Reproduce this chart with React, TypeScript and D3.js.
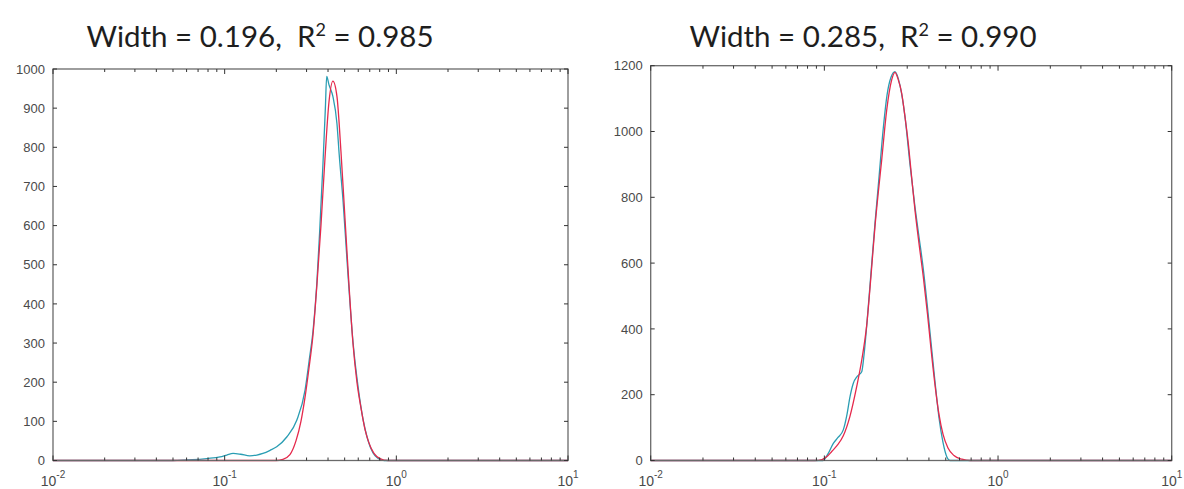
import React from "react";
import * as d3 from "d3";

const WIDTH = 1184;
const HEIGHT = 489;

// Shared log-scaled size axis
const xDomain = [0.01, 10];
const xDecadeExponents = ["-2", "-1", "0", "1"];

// Left panel: measured distribution (cyan) and fitted curve (red)
const leftWidth = "0.196";
const leftR2 = "0.985";
const leftYMax = 1000;
const leftYTicks = [0, 100, 200, 300, 400, 500, 600, 700, 800, 900, 1000];
const leftDataX = [0.01, 0.05, 0.065, 0.0785, 0.094, 0.103, 0.112, 0.124, 0.14, 0.154, 0.167, 0.184, 0.201, 0.23, 0.263, 0.294, 0.311, 0.327, 0.344, 0.359, 0.374, 0.386, 0.393, 0.405, 0.427, 0.451, 0.465, 0.49, 0.52, 0.56, 0.6, 0.64, 0.68, 0.73, 0.78, 0.85, 10];
const leftDataY = [0, 0, 2, 5, 9, 14, 18, 16, 12, 14, 18, 26, 35, 60, 103, 180, 257, 330, 450, 600, 760, 900, 981, 960, 930, 860, 780, 660, 490, 300, 185, 105, 55, 20, 6, 0, 0];
const leftFitX = [0.01, 0.199, 0.2185, 0.24, 0.2602, 0.2782, 0.2935, 0.3097, 0.3268, 0.3448, 0.3638, 0.3838, 0.405, 0.4273, 0.4509, 0.4757, 0.5019, 0.5296, 0.5588, 0.5896, 0.622, 0.6563, 0.6925, 0.7409, 0.8027, 0.8935, 10];
const leftFitY = [0, 0, 3, 15, 50, 100, 160, 235, 320, 450, 600, 770, 915, 969, 930, 790, 620, 450, 300, 200, 135, 80, 45, 18, 5, 0, 0];

// Right panel: measured distribution (cyan) and fitted curve (red)
const rightWidth = "0.285";
const rightR2 = "0.990";
const rightYMax = 1200;
const rightYTicks = [0, 200, 400, 600, 800, 1000, 1200];
const rightDataX = [0.01, 0.0982, 0.1049, 0.1126, 0.1198, 0.1285, 0.135, 0.1405, 0.1468, 0.1542, 0.1641, 0.1691, 0.176, 0.1855, 0.1956, 0.2063, 0.2184, 0.2294, 0.2419, 0.255, 0.2725, 0.2912, 0.3112, 0.3325, 0.3506, 0.3697, 0.3899, 0.4111, 0.4335, 0.4571, 0.482, 0.5082, 0.529, 10];
const rightDataY = [0, 0, 20, 52, 70, 93, 140, 194, 235, 255, 270, 320, 420, 570, 720, 860, 1010, 1110, 1165, 1182, 1140, 1045, 900, 770, 680, 590, 480, 360, 240, 130, 55, 10, 0, 0];
const rightFitX = [0.01, 0.0883, 0.0969, 0.1035, 0.1106, 0.1182, 0.1285, 0.1405, 0.1536, 0.1647, 0.1752, 0.1855, 0.1956, 0.2049, 0.2138, 0.2285, 0.2441, 0.255, 0.2655, 0.2788, 0.2912, 0.3042, 0.3175, 0.3325, 0.3506, 0.3712, 0.3925, 0.4111, 0.4335, 0.4571, 0.482, 0.515, 0.5577, 0.62, 0.6895, 10];
const rightFitY = [0, 0, 3, 12, 28, 45, 75, 135, 225, 310, 410, 560, 711, 820, 913, 1065, 1157, 1180, 1160, 1116, 1045, 964, 865, 761, 660, 559, 445, 340, 230, 140, 80, 38, 15, 4, 0, 0];

const DATA_COLOR = "#2a9db3";
const FIT_COLOR = "#e5294c";
const AXIS_COLOR = "#6a6a6a";
const LABEL_COLOR = "#4a4a4a";
const TICK_FONT = "'Liberation Sans', Arial, Helvetica, sans-serif";
const TITLE_FONT = "Lato, 'Open Sans', sans-serif";

type PanelProps = {
  left: number;
  right: number;
  top: number;
  bottom: number;
  titleX: number;
  width: string;
  r2: string;
  yMax: number;
  yTicks: number[];
  dataX: number[];
  dataY: number[];
  fitX: number[];
  fitY: number[];
};

function Panel(p: PanelProps) {
  const x = d3.scaleLog().domain(xDomain).range([p.left, p.right]);
  const y = d3.scaleLinear().domain([0, p.yMax]).range([p.bottom, p.top]);
  const line = d3
    .line<[number, number]>()
    .x((d) => x(d[0]))
    .y((d) => y(d[1]))
    .curve(d3.curveMonotoneX);
  const dataPath = line(p.dataX.map((v, i) => [v, p.dataY[i]] as [number, number])) || "";
  const fitPath = line(p.fitX.map((v, i) => [v, p.fitY[i]] as [number, number])) || "";
  const xTicks = x.ticks();
  const isMajor = (v: number) => Math.abs(Math.log10(v) - Math.round(Math.log10(v))) < 1e-9;

  return (
    <g>
      <text
        x={p.titleX}
        y={47}
        textAnchor="middle"
        fontFamily={TITLE_FONT}
        fontSize={29.5}
        fill="#1e1e1e"
        style={{ whiteSpace: "pre" }}
      >
        {`Width = ${p.width},  R`}
        <tspan fontSize={18} dy={-11}>2</tspan>
        <tspan dy={11}>{` = ${p.r2}`}</tspan>
      </text>

      {/* curves */}
      <path d={dataPath} fill="none" stroke={DATA_COLOR} strokeWidth={1.3} />
      <path d={fitPath} fill="none" stroke={FIT_COLOR} strokeWidth={1.3} />

      {/* box */}
      <rect
        x={p.left}
        y={p.top}
        width={p.right - p.left}
        height={p.bottom - p.top}
        fill="none"
        stroke={AXIS_COLOR}
        strokeWidth={1.3}
      />

      {/* x ticks, inside on bottom and top */}
      {xTicks.map((v, i) => {
        const len = isMajor(v) ? 5 : 3;
        const xx = x(v);
        return (
          <g key={`xt${i}`} stroke="#333" strokeWidth={1}>
            <line x1={xx} x2={xx} y1={p.bottom} y2={p.bottom - len} />
            <line x1={xx} x2={xx} y1={p.top} y2={p.top + len} />
          </g>
        );
      })}

      {/* y ticks, inside on left and right */}
      {p.yTicks.map((v) => (
        <g key={`yt${v}`} stroke="#333" strokeWidth={1}>
          <line x1={p.left} x2={p.left + 4} y1={y(v)} y2={y(v)} />
          <line x1={p.right} x2={p.right - 4} y1={y(v)} y2={y(v)} />
        </g>
      ))}

      {/* y labels */}
      {p.yTicks.map((v) => (
        <text
          key={`yl${v}`}
          x={p.left - 8}
          y={y(v)}
          dy="0.36em"
          textAnchor="end"
          fontFamily={TICK_FONT}
          fontSize={13}
          fill={LABEL_COLOR}
        >
          {v}
        </text>
      ))}

      {/* x labels: powers of ten */}
      {xDecadeExponents.map((e) => (
        <text
          key={`xl${e}`}
          x={x(Math.pow(10, +e))}
          y={486}
          textAnchor="middle"
          fontFamily={TICK_FONT}
          fontSize={14}
          fill={LABEL_COLOR}
        >
          10
          <tspan fontSize={10} dy={-8}>{e}</tspan>
        </text>
      ))}
    </g>
  );
}

export default function App() {
  return (
    <svg
      width={WIDTH}
      height={HEIGHT}
      style={{ position: "absolute", left: 0, top: 0, background: "#fff" }}
    >
      <rect width={WIDTH} height={HEIGHT} fill="#fff" />
      <Panel
        left={53}
        right={568}
        top={69}
        bottom={460.5}
        titleX={260}
        width={leftWidth}
        r2={leftR2}
        yMax={leftYMax}
        yTicks={leftYTicks}
        dataX={leftDataX}
        dataY={leftDataY}
        fitX={leftFitX}
        fitY={leftFitY}
      />
      <Panel
        left={650.7}
        right={1171.7}
        top={65.7}
        bottom={460.5}
        titleX={863}
        width={rightWidth}
        r2={rightR2}
        yMax={rightYMax}
        yTicks={rightYTicks}
        dataX={rightDataX}
        dataY={rightDataY}
        fitX={rightFitX}
        fitY={rightFitY}
      />
    </svg>
  );
}
